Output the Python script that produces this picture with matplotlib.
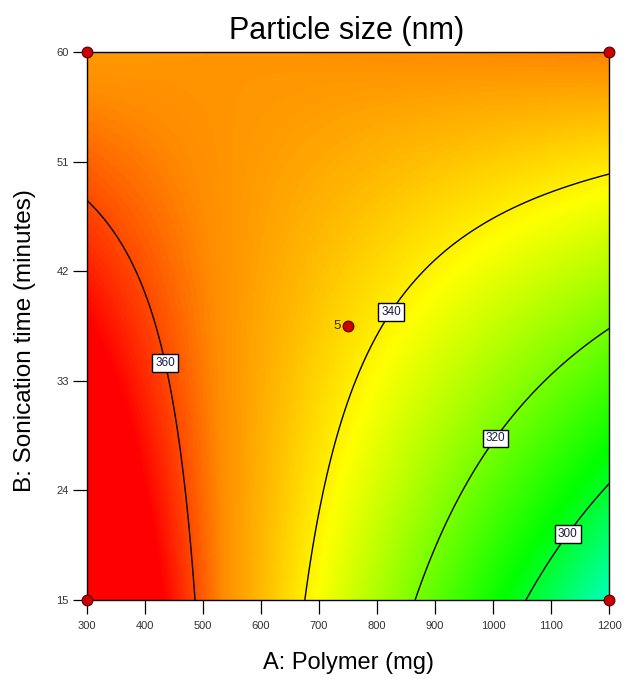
import numpy as np
import matplotlib
matplotlib.use("Agg")
import matplotlib.pyplot as plt
from matplotlib.colors import LinearSegmentedColormap

plt.rcParams['font.family'] = ['Liberation Sans', 'DejaVu Sans']

# factor ranges
polymer_lo, polymer_hi = 300, 1200       # A: Polymer (mg)
sonic_lo, sonic_hi = 15, 60              # B: Sonication time (min)

# quadratic model in coded units: b0, A, B, AB, A^2, B^2
coef_b0 = 342.99
coef_a = -22.91
coef_b = 10.95
coef_ab = 24.44
coef_aa = 0.26
coef_bb = 0.12

contour_levels = [300, 320, 340, 360]
label_pos = [(1124, 20.6), (1000, 28.4), (826, 38.6), (436, 34.5)]

# design points (factorial corners + centre point with 5 replicates)
design_A = [300, 300, 1200, 1200, 750]
design_B = [15, 60, 15, 60, 37.5]
design_reps = [1, 1, 1, 1, 5]

xticks = [300, 400, 500, 600, 700, 800, 900, 1000, 1100, 1200]
yticks = [15, 24, 33, 42, 51, 60]

# colour ramp blue -> cyan -> green -> yellow -> orange -> red
ramp_vals = [250, 278, 304, 338, 355, 366]
ramp_cols = ['#0000ff', '#00ffff', '#00ff00', '#ffff00', '#ff8c00', '#ff0000']

A = np.linspace(polymer_lo, polymer_hi, 400)
B = np.linspace(sonic_lo, sonic_hi, 400)
AA, BB = np.meshgrid(A, B)
a = (AA - (polymer_lo + polymer_hi) / 2) / ((polymer_hi - polymer_lo) / 2)
b = (BB - (sonic_lo + sonic_hi) / 2) / ((sonic_hi - sonic_lo) / 2)
Z = coef_b0 + coef_a * a + coef_b * b + coef_ab * a * b + coef_aa * a * a + coef_bb * b * b

lo, hi = ramp_vals[0], ramp_vals[-1]
cmap = LinearSegmentedColormap.from_list(
    'de', [((v - lo) / (hi - lo), c) for v, c in zip(ramp_vals, ramp_cols)])

fig = plt.figure(figsize=(6.25, 6.79), dpi=100)
ax = fig.add_axes([87 / 625, 1 - 600 / 679, 522 / 625, 548 / 679])

ax.imshow(Z, extent=[polymer_lo, polymer_hi, sonic_lo, sonic_hi], origin='lower',
          aspect='auto', cmap=cmap, vmin=lo, vmax=hi, interpolation='bilinear')
cs = ax.contour(AA, BB, Z, levels=contour_levels, colors='black', linewidths=1.0)
labels = ax.clabel(cs, fmt='%d', inline=False, fontsize=8.5, manual=label_pos)
for t in labels:
    t.set_rotation(0)
    t.set_zorder(5)
    t.set_color('#1a1a40')
    t.set_bbox(dict(boxstyle='square,pad=0.25', facecolor='white', edgecolor='black', linewidth=1.0))

ax.scatter(design_A, design_B, s=60, color='#cc0000', edgecolors='#550000',
           linewidths=0.8, zorder=6, clip_on=False)
for x, y, n in zip(design_A, design_B, design_reps):
    if n > 1:
        ax.text(x - 12, y, str(n), ha='right', va='center', fontsize=9.5, color='#333300', zorder=6)

ax.set_xlim(polymer_lo, polymer_hi)
ax.set_ylim(sonic_lo, sonic_hi)
ax.set_xticks(xticks)
ax.set_yticks(yticks)
ax.tick_params(direction='out', length=10, width=0.9, labelsize=8,
               labelcolor='#333333')
ax.tick_params(axis='x', pad=5)
ax.tick_params(axis='y', pad=3)
for s in ax.spines.values():
    s.set_linewidth(1.0)

fig.text(0.555, 0.955, 'Particle size (nm)', ha='center', va='center', fontsize=22)
fig.text(0.557, 0.024, 'A: Polymer (mg)', ha='center', va='center', fontsize=17)
fig.text(0.040, 0.498, 'B: Sonication time (minutes)', ha='center', va='center',
         rotation=90, fontsize=17.5)

fig.savefig("out.png", dpi=100)
